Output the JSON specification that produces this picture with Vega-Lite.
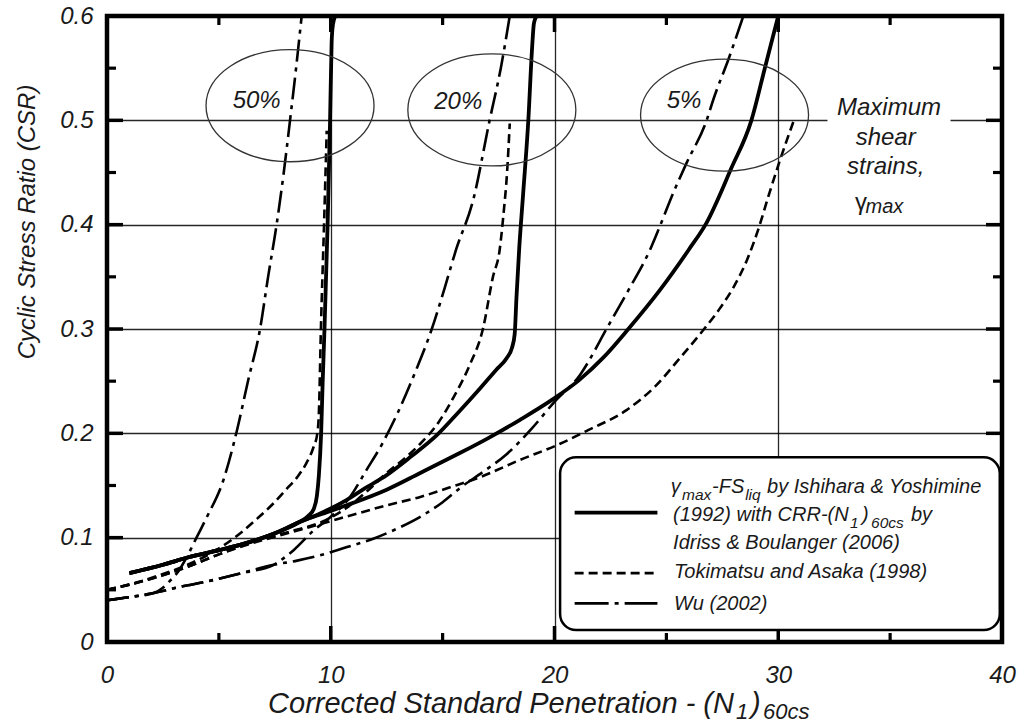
{
  "$schema": "https://vega.github.io/schema/vega-lite/v6.json",
  "width": 895,
  "height": 626,
  "autosize": "none",
  "padding": {"left": 107, "top": 16, "right": 19, "bottom": 81},
  "config": {
    "view": {"stroke": "black", "strokeWidth": 4.5},
    "font": "Liberation Sans",
    "text": {"font": "Liberation Sans", "fontStyle": "italic", "color": "#1a1a1a"}
  },
  "datasets": {
    "curves": [
      {"m":"IY","c":"50","x":1,"y":0.066},{"m":"IY","c":"50","x":2.5,"y":0.074},{"m":"IY","c":"50","x":3.6,"y":0.081},{"m":"IY","c":"50","x":5,"y":0.088},{"m":"IY","c":"50","x":6.4,"y":0.096},{"m":"IY","c":"50","x":7.7,"y":0.106},{"m":"IY","c":"50","x":8.6,"y":0.115},{"m":"IY","c":"50","x":9.0,"y":0.121},{"m":"IY","c":"50","x":9.25,"y":0.128},{"m":"IY","c":"50","x":9.38,"y":0.14},{"m":"IY","c":"50","x":9.47,"y":0.16},{"m":"IY","c":"50","x":9.57,"y":0.2},{"m":"IY","c":"50","x":9.64,"y":0.25},{"m":"IY","c":"50","x":9.72,"y":0.3},{"m":"IY","c":"50","x":9.86,"y":0.4},{"m":"IY","c":"50","x":9.97,"y":0.5},{"m":"IY","c":"50","x":10.04,"y":0.575},{"m":"IY","c":"50","x":10.1,"y":0.592},{"m":"IY","c":"50","x":10.2,"y":0.6},
      {"m":"IY","c":"20","x":1,"y":0.066},{"m":"IY","c":"20","x":2.5,"y":0.074},{"m":"IY","c":"20","x":3.6,"y":0.081},{"m":"IY","c":"20","x":5,"y":0.088},{"m":"IY","c":"20","x":6.4,"y":0.096},{"m":"IY","c":"20","x":7.7,"y":0.106},{"m":"IY","c":"20","x":8.6,"y":0.115},{"m":"IY","c":"20","x":9.5,"y":0.123},{"m":"IY","c":"20","x":10.7,"y":0.136},{"m":"IY","c":"20","x":11.5,"y":0.147},{"m":"IY","c":"20","x":12.5,"y":0.16},{"m":"IY","c":"20","x":13.6,"y":0.178},{"m":"IY","c":"20","x":14.73,"y":0.198},{"m":"IY","c":"20","x":15.7,"y":0.22},{"m":"IY","c":"20","x":16.67,"y":0.243},{"m":"IY","c":"20","x":17.4,"y":0.261},{"m":"IY","c":"20","x":17.86,"y":0.272},{"m":"IY","c":"20","x":18.1,"y":0.282},{"m":"IY","c":"20","x":18.22,"y":0.295},{"m":"IY","c":"20","x":18.3,"y":0.33},{"m":"IY","c":"20","x":18.42,"y":0.376},{"m":"IY","c":"20","x":18.6,"y":0.43},{"m":"IY","c":"20","x":18.83,"y":0.5},{"m":"IY","c":"20","x":19.0,"y":0.57},{"m":"IY","c":"20","x":19.08,"y":0.593},{"m":"IY","c":"20","x":19.2,"y":0.6},
      {"m":"IY","c":"5","x":1,"y":0.066},{"m":"IY","c":"5","x":2.5,"y":0.074},{"m":"IY","c":"5","x":3.6,"y":0.081},{"m":"IY","c":"5","x":5,"y":0.088},{"m":"IY","c":"5","x":6.4,"y":0.096},{"m":"IY","c":"5","x":7.7,"y":0.106},{"m":"IY","c":"5","x":8.6,"y":0.115},{"m":"IY","c":"5","x":9.5,"y":0.122},{"m":"IY","c":"5","x":10.7,"y":0.131},{"m":"IY","c":"5","x":12.5,"y":0.146},{"m":"IY","c":"5","x":14,"y":0.162},{"m":"IY","c":"5","x":15.48,"y":0.178},{"m":"IY","c":"5","x":17,"y":0.195},{"m":"IY","c":"5","x":18.46,"y":0.213},{"m":"IY","c":"5","x":19.95,"y":0.233},{"m":"IY","c":"5","x":21.1,"y":0.251},{"m":"IY","c":"5","x":22.2,"y":0.273},{"m":"IY","c":"5","x":23.3,"y":0.3},{"m":"IY","c":"5","x":24.7,"y":0.337},{"m":"IY","c":"5","x":26.0,"y":0.376},{"m":"IY","c":"5","x":26.8,"y":0.402},{"m":"IY","c":"5","x":27.9,"y":0.454},{"m":"IY","c":"5","x":28.8,"y":0.5},{"m":"IY","c":"5","x":29.4,"y":0.55},{"m":"IY","c":"5","x":30.0,"y":0.6},
      {"m":"TA","c":"50","x":0,"y":0.05},{"m":"TA","c":"50","x":1,"y":0.055},{"m":"TA","c":"50","x":2.2,"y":0.063},{"m":"TA","c":"50","x":3.6,"y":0.074},{"m":"TA","c":"50","x":5.1,"y":0.091},{"m":"TA","c":"50","x":6.0,"y":0.105},{"m":"TA","c":"50","x":6.7,"y":0.118},{"m":"TA","c":"50","x":7.4,"y":0.132},{"m":"TA","c":"50","x":8.0,"y":0.146},{"m":"TA","c":"50","x":8.5,"y":0.158},{"m":"TA","c":"50","x":8.9,"y":0.171},{"m":"TA","c":"50","x":9.2,"y":0.185},{"m":"TA","c":"50","x":9.4,"y":0.2},{"m":"TA","c":"50","x":9.47,"y":0.22},{"m":"TA","c":"50","x":9.56,"y":0.3},{"m":"TA","c":"50","x":9.7,"y":0.4},{"m":"TA","c":"50","x":9.82,"y":0.49},
      {"m":"TA","c":"20","x":0,"y":0.05},{"m":"TA","c":"20","x":1,"y":0.055},{"m":"TA","c":"20","x":2.2,"y":0.062},{"m":"TA","c":"20","x":3.6,"y":0.072},{"m":"TA","c":"20","x":5,"y":0.084},{"m":"TA","c":"20","x":6.7,"y":0.097},{"m":"TA","c":"20","x":8.2,"y":0.106},{"m":"TA","c":"20","x":9.7,"y":0.116},{"m":"TA","c":"20","x":10.8,"y":0.13},{"m":"TA","c":"20","x":11.7,"y":0.146},{"m":"TA","c":"20","x":12.5,"y":0.162},{"m":"TA","c":"20","x":13.3,"y":0.176},{"m":"TA","c":"20","x":14.0,"y":0.19},{"m":"TA","c":"20","x":14.8,"y":0.21},{"m":"TA","c":"20","x":15.5,"y":0.235},{"m":"TA","c":"20","x":16.2,"y":0.265},{"m":"TA","c":"20","x":16.8,"y":0.3},{"m":"TA","c":"20","x":17.25,"y":0.35},{"m":"TA","c":"20","x":17.55,"y":0.376},{"m":"TA","c":"20","x":17.72,"y":0.41},{"m":"TA","c":"20","x":17.88,"y":0.45},{"m":"TA","c":"20","x":18.0,"y":0.497},
      {"m":"TA","c":"5","x":0,"y":0.05},{"m":"TA","c":"5","x":1,"y":0.055},{"m":"TA","c":"5","x":2.2,"y":0.062},{"m":"TA","c":"5","x":3.6,"y":0.072},{"m":"TA","c":"5","x":5,"y":0.084},{"m":"TA","c":"5","x":6.7,"y":0.096},{"m":"TA","c":"5","x":8.2,"y":0.105},{"m":"TA","c":"5","x":9.7,"y":0.114},{"m":"TA","c":"5","x":11,"y":0.122},{"m":"TA","c":"5","x":12.5,"y":0.131},{"m":"TA","c":"5","x":14,"y":0.139},{"m":"TA","c":"5","x":15.3,"y":0.148},{"m":"TA","c":"5","x":16.67,"y":0.158},{"m":"TA","c":"5","x":18.4,"y":0.174},{"m":"TA","c":"5","x":20.25,"y":0.19},{"m":"TA","c":"5","x":21.5,"y":0.203},{"m":"TA","c":"5","x":23.2,"y":0.222},{"m":"TA","c":"5","x":24.5,"y":0.245},{"m":"TA","c":"5","x":25.6,"y":0.272},{"m":"TA","c":"5","x":26.65,"y":0.299},{"m":"TA","c":"5","x":27.4,"y":0.32},{"m":"TA","c":"5","x":28.0,"y":0.34},{"m":"TA","c":"5","x":28.6,"y":0.366},{"m":"TA","c":"5","x":29.1,"y":0.395},{"m":"TA","c":"5","x":29.6,"y":0.43},{"m":"TA","c":"5","x":30.08,"y":0.462},{"m":"TA","c":"5","x":30.4,"y":0.482},{"m":"TA","c":"5","x":30.7,"y":0.5},
      {"m":"WU","c":"50","x":0,"y":0.04},{"m":"WU","c":"50","x":1,"y":0.043},{"m":"WU","c":"50","x":2.09,"y":0.047},{"m":"WU","c":"50","x":2.5,"y":0.052},{"m":"WU","c":"50","x":2.83,"y":0.059},{"m":"WU","c":"50","x":3.2,"y":0.068},{"m":"WU","c":"50","x":3.58,"y":0.082},{"m":"WU","c":"50","x":4.0,"y":0.1},{"m":"WU","c":"50","x":4.47,"y":0.12},{"m":"WU","c":"50","x":5.2,"y":0.155},{"m":"WU","c":"50","x":5.81,"y":0.203},{"m":"WU","c":"50","x":6.3,"y":0.25},{"m":"WU","c":"50","x":6.84,"y":0.3},{"m":"WU","c":"50","x":7.2,"y":0.35},{"m":"WU","c":"50","x":7.58,"y":0.4},{"m":"WU","c":"50","x":7.9,"y":0.45},{"m":"WU","c":"50","x":8.18,"y":0.5},{"m":"WU","c":"50","x":8.45,"y":0.55},{"m":"WU","c":"50","x":8.7,"y":0.6},
      {"m":"WU","c":"20","x":0,"y":0.04},{"m":"WU","c":"20","x":1,"y":0.043},{"m":"WU","c":"20","x":2.09,"y":0.047},{"m":"WU","c":"20","x":3.3,"y":0.053},{"m":"WU","c":"20","x":4.47,"y":0.058},{"m":"WU","c":"20","x":6,"y":0.066},{"m":"WU","c":"20","x":7.45,"y":0.074},{"m":"WU","c":"20","x":7.6,"y":0.076},{"m":"WU","c":"20","x":8.34,"y":0.088},{"m":"WU","c":"20","x":9.24,"y":0.107},{"m":"WU","c":"20","x":10.0,"y":0.12},{"m":"WU","c":"20","x":10.86,"y":0.139},{"m":"WU","c":"20","x":11.6,"y":0.165},{"m":"WU","c":"20","x":12.3,"y":0.19},{"m":"WU","c":"20","x":13.0,"y":0.22},{"m":"WU","c":"20","x":13.8,"y":0.26},{"m":"WU","c":"20","x":14.5,"y":0.299},{"m":"WU","c":"20","x":15.1,"y":0.34},{"m":"WU","c":"20","x":15.6,"y":0.376},{"m":"WU","c":"20","x":16.37,"y":0.424},{"m":"WU","c":"20","x":17.1,"y":0.5},{"m":"WU","c":"20","x":17.6,"y":0.55},{"m":"WU","c":"20","x":18.0,"y":0.6},
      {"m":"WU","c":"5","x":0,"y":0.04},{"m":"WU","c":"5","x":1,"y":0.043},{"m":"WU","c":"5","x":2.09,"y":0.047},{"m":"WU","c":"5","x":3.3,"y":0.053},{"m":"WU","c":"5","x":4.47,"y":0.058},{"m":"WU","c":"5","x":6,"y":0.066},{"m":"WU","c":"5","x":7.45,"y":0.074},{"m":"WU","c":"5","x":8.5,"y":0.078},{"m":"WU","c":"5","x":9.52,"y":0.083},{"m":"WU","c":"5","x":10.73,"y":0.091},{"m":"WU","c":"5","x":11.9,"y":0.099},{"m":"WU","c":"5","x":13,"y":0.109},{"m":"WU","c":"5","x":14,"y":0.12},{"m":"WU","c":"5","x":15,"y":0.134},{"m":"WU","c":"5","x":15.8,"y":0.148},{"m":"WU","c":"5","x":16.8,"y":0.163},{"m":"WU","c":"5","x":17.86,"y":0.18},{"m":"WU","c":"5","x":19,"y":0.205},{"m":"WU","c":"5","x":19.95,"y":0.229},{"m":"WU","c":"5","x":21.14,"y":0.256},{"m":"WU","c":"5","x":22.4,"y":0.303},{"m":"WU","c":"5","x":23.3,"y":0.337},{"m":"WU","c":"5","x":24.27,"y":0.376},{"m":"WU","c":"5","x":24.7,"y":0.398},{"m":"WU","c":"5","x":25.3,"y":0.43},{"m":"WU","c":"5","x":25.9,"y":0.459},{"m":"WU","c":"5","x":26.8,"y":0.5},{"m":"WU","c":"5","x":27.1,"y":0.52},{"m":"WU","c":"5","x":27.8,"y":0.56},{"m":"WU","c":"5","x":28.44,"y":0.6}
    ],
    "ticksXMajor": [{"x":10,"y":0},{"x":20,"y":0},{"x":30,"y":0},{"x":10,"y":0.6},{"x":20,"y":0.6},{"x":30,"y":0.6}],
    "ticksXMinor": [{"x":5,"y":0},{"x":15,"y":0},{"x":25,"y":0},{"x":35,"y":0},{"x":5,"y":0.6},{"x":15,"y":0.6},{"x":25,"y":0.6},{"x":35,"y":0.6}],
    "ticksYMajor": [{"x":0,"y":0.1},{"x":0,"y":0.2},{"x":0,"y":0.3},{"x":0,"y":0.4},{"x":0,"y":0.5},{"x":40,"y":0.1},{"x":40,"y":0.2},{"x":40,"y":0.3},{"x":40,"y":0.4},{"x":40,"y":0.5}],
    "ticksYMinor": [{"x":0,"y":0.05},{"x":0,"y":0.15},{"x":0,"y":0.25},{"x":0,"y":0.35},{"x":0,"y":0.45},{"x":0,"y":0.55},{"x":40,"y":0.05},{"x":40,"y":0.15},{"x":40,"y":0.25},{"x":40,"y":0.35},{"x":40,"y":0.45},{"x":40,"y":0.55}],
    "ellipses": [{"x":8.18,"y":0.514},{"x":17.2,"y":0.51},{"x":27.6,"y":0.505}],
    "ellLabels": [{"x":6.69,"y":0.512,"t":"50%"},{"x":15.7,"y":0.511,"t":"20%"},{"x":25.79,"y":0.5115,"t":"5%"}],
    "annot": [{"x":34.95,"y":0.505,"t":"Maximum"},{"x":34.8,"y":0.476,"t":"shear"},{"x":34.8,"y":0.449,"t":"strains,"}],
    "annotMask": [{"x":32.2,"x2":37.7,"y":0.492,"y2":0.508}],
    "legendBox": [{"x":20.25,"x2":39.9,"y":0.0115,"y2":0.177}],
    "legendIY": [{"x":20.9,"x2":24.6,"y":0.124}],
    "legendTA": [{"x":20.9,"x2":24.6,"y":0.066}],
    "legendWU": [{"x":20.9,"x2":24.6,"y":0.037}],
    "textBig": [
      {"x":25.2,"y":0.143,"t":"γ"},{"x":27.04,"y":0.143,"t":"-FS"},{"x":29.5,"y":0.143,"t":"by Ishihara & Yoshimine"},
      {"x":25.3,"y":0.116,"t":"(1992) with CRR-(N"},{"x":33.74,"y":0.116,"t":")"},{"x":35.93,"y":0.116,"t":"by"},
      {"x":25.3,"y":0.089,"t":"Idriss & Boulanger (2006)"},
      {"x":25.34,"y":0.061,"t":"Tokimatsu and Asaka (1998)"},
      {"x":25.34,"y":0.031,"t":"Wu (2002)"}
    ],
    "textSmall": [
      {"x":25.7,"y":0.136,"t":"max"},{"x":28.52,"y":0.136,"t":"liq"},
      {"x":33.21,"y":0.109,"t":"1"},{"x":34.15,"y":0.109,"t":"60cs"}
    ],
    "gammaAnnot": [{"x":33.43,"y":0.414,"t":"γ"}],
    "gammaSub": [{"x":33.9,"y":0.411,"t":"max"}],
    "xTitleMain": [{"x":7.2,"y":-0.068,"t":"Corrected Standard Penetration - (N"},{"x":28.78,"y":-0.068,"t":")"}],
    "xTitleSub": [{"x":28.11,"y":-0.0738,"t":"1"},{"x":29.32,"y":-0.0738,"t":"60cs"}],
    "yTitle": [{"x":-3.53,"y":0.4026,"t":"Cyclic Stress Ratio (CSR)"}]
  },
  "encoding": {
    "x": {"field": "x", "type": "quantitative", "scale": {"domain": [0, 40], "nice": false, "zero": false},
      "axis": {"orient": "bottom", "values": [0,10,20,30,40], "domain": false, "title": null, "ticks": false,
        "grid": true, "gridColor": "black", "gridWidth": 1.3,
        "gridOpacity": {"condition": {"test": "datum.value > 0 && datum.value < 40", "value": 0.85}, "value": 0},
        "labelFlush": false, "labelOverlap": false,
        "labelPadding": 21, "labelFont": "Liberation Sans", "labelFontStyle": "italic", "labelFontSize": 24, "labelColor": "#1a1a1a"}},
    "y": {"field": "y", "type": "quantitative", "scale": {"domain": [0, 0.6], "nice": false, "zero": false},
      "axis": {"orient": "left", "values": [0,0.1,0.2,0.3,0.4,0.5,0.6], "domain": false, "title": null, "ticks": false,
        "grid": true, "gridColor": "black", "gridWidth": 1.3,
        "gridOpacity": {"condition": {"test": "datum.value > 0.01 && datum.value < 0.59", "value": 0.85}, "value": 0},
        "labelExpr": "format(datum.value, '~g')", "labelFlush": false, "labelOverlap": false,
        "labelPadding": 14, "labelFont": "Liberation Sans", "labelFontStyle": "italic", "labelFontSize": 24, "labelColor": "#1a1a1a"}}
  },
  "layer": [
    {
      "data": {"name": "curves"},
      "transform": [{"filter": "datum.m === 'IY'"}],
      "mark": {"type": "line", "color": "black", "strokeWidth": 3.8, "clip": true, "interpolate": "monotone"},
      "encoding": {"detail": {"field": "c"}}
    },
    {
      "data": {"name": "curves"},
      "transform": [{"filter": "datum.m === 'TA'"}],
      "mark": {"type": "line", "color": "black", "strokeWidth": 2.6, "strokeDash": [9, 5], "clip": true, "interpolate": "monotone"},
      "encoding": {"detail": {"field": "c"}}
    },
    {
      "data": {"name": "curves"},
      "transform": [{"filter": "datum.m === 'WU'"}],
      "mark": {"type": "line", "color": "black", "strokeWidth": 2.6, "strokeDash": [22, 6, 4, 6], "clip": true, "interpolate": "monotone"},
      "encoding": {"detail": {"field": "c"}}
    },
    {
      "data": {"name": "ticksXMajor"},
      "mark": {"type": "tick", "orient": "vertical", "size": 32, "thickness": 3.5, "color": "black", "opacity": 1, "clip": true}
    },
    {
      "data": {"name": "ticksXMinor"},
      "mark": {"type": "tick", "orient": "vertical", "size": 18, "thickness": 3.2, "color": "black", "opacity": 1, "clip": true}
    },
    {
      "data": {"name": "ticksYMajor"},
      "mark": {"type": "tick", "orient": "horizontal", "size": 32, "thickness": 3.5, "color": "black", "opacity": 1, "clip": true}
    },
    {
      "data": {"name": "ticksYMinor"},
      "mark": {"type": "tick", "orient": "horizontal", "size": 18, "thickness": 3.2, "color": "black", "opacity": 1, "clip": true}
    },
    {
      "data": {"name": "ellipses"},
      "mark": {"type": "point", "shape": "M -1 0 C -1 -0.37 -0.5523 -0.667 0 -0.667 C 0.5523 -0.667 1 -0.37 1 0 C 1 0.37 0.5523 0.667 0 0.667 C -0.5523 0.667 -1 0.37 -1 0 Z", "size": 28224, "filled": false, "stroke": "#333333", "strokeWidth": 1.3, "opacity": 1}
    },
    {
      "data": {"name": "ellLabels"},
      "mark": {"type": "text", "fontSize": 24, "align": "center", "baseline": "alphabetic"},
      "encoding": {"text": {"field": "t"}}
    },
    {
      "data": {"name": "annotMask"},
      "mark": {"type": "rect", "fill": "white", "stroke": null},
      "encoding": {"x2": {"field": "x2"}, "y2": {"field": "y2"}}
    },
    {
      "data": {"name": "annot"},
      "mark": {"type": "text", "fontSize": 24, "align": "center", "baseline": "alphabetic"},
      "encoding": {"text": {"field": "t"}}
    },
    {
      "data": {"name": "gammaAnnot"},
      "mark": {"type": "text", "fontSize": 24, "align": "left", "baseline": "alphabetic", "fontStyle": "normal"},
      "encoding": {"text": {"field": "t"}}
    },
    {
      "data": {"name": "gammaSub"},
      "mark": {"type": "text", "fontSize": 20, "align": "left", "baseline": "alphabetic"},
      "encoding": {"text": {"field": "t"}}
    },
    {
      "data": {"name": "legendBox"},
      "mark": {"type": "rect", "fill": "white", "stroke": "black", "strokeWidth": 2.5, "cornerRadius": 16},
      "encoding": {"x2": {"field": "x2"}, "y2": {"field": "y2"}}
    },
    {
      "data": {"name": "legendIY"},
      "mark": {"type": "rule", "color": "black", "strokeWidth": 3.8},
      "encoding": {"x2": {"field": "x2"}}
    },
    {
      "data": {"name": "legendTA"},
      "mark": {"type": "rule", "color": "black", "strokeWidth": 2.6, "strokeDash": [9, 5]},
      "encoding": {"x2": {"field": "x2"}}
    },
    {
      "data": {"name": "legendWU"},
      "mark": {"type": "rule", "color": "black", "strokeWidth": 2.6, "strokeDash": [34, 6, 4, 6]},
      "encoding": {"x2": {"field": "x2"}}
    },
    {
      "data": {"name": "textBig"},
      "mark": {"type": "text", "fontSize": 20, "align": "left", "baseline": "alphabetic"},
      "encoding": {"text": {"field": "t"}}
    },
    {
      "data": {"name": "textSmall"},
      "mark": {"type": "text", "fontSize": 15.5, "align": "left", "baseline": "alphabetic"},
      "encoding": {"text": {"field": "t"}}
    },
    {
      "data": {"name": "xTitleMain"},
      "mark": {"type": "text", "fontSize": 29, "align": "left", "baseline": "alphabetic"},
      "encoding": {"text": {"field": "t"}}
    },
    {
      "data": {"name": "xTitleSub"},
      "mark": {"type": "text", "fontSize": 22, "align": "left", "baseline": "alphabetic"},
      "encoding": {"text": {"field": "t"}}
    },
    {
      "data": {"name": "yTitle"},
      "mark": {"type": "text", "fontSize": 24, "align": "center", "baseline": "middle", "angle": 270},
      "encoding": {"text": {"field": "t"}}
    }
  ]
}
